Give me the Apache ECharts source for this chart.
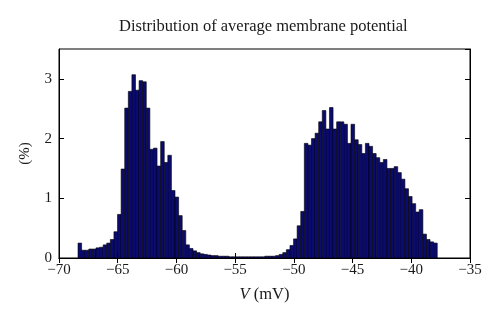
<!DOCTYPE html>
<html><head><meta charset="utf-8">
<script src="https://cdn.jsdelivr.net/npm/echarts@6/dist/echarts.min.js"></script>
<style>html,body{margin:0;padding:0;background:#fff}#c{width:500px;height:323px}</style>
</head><body><div id="c"></div>
<script>
const titleText = 'Distribution of average membrane potential';
const binStart = -68.38;   // left edge of first bin (mV)
const binWidth = 0.3059;   // bin width (mV)
const percents = [
 0.25,0.13,0.13,0.15,0.15,0.17,0.18,0.22,0.25,0.31,
 0.44,0.73,1.49,2.51,2.79,3.07,2.81,2.97,2.95,2.51,
 1.82,1.84,1.54,1.95,1.60,1.72,1.13,1.02,0.71,0.46,
 0.22,0.16,0.12,0.09,0.07,0.06,0.05,0.04,0.04,0.03,
 0.03,0.03,0.02,0.02,0.02,0.02,0.02,0.02,0.02,0.02,
 0.02,0.02,0.03,0.03,0.03,0.04,0.06,0.09,0.14,0.21,
 0.32,0.54,0.78,1.92,1.89,2.00,2.09,2.28,2.47,2.16,
 2.52,2.16,2.28,2.28,2.24,1.92,2.24,1.98,1.90,1.75,
 1.92,1.87,1.75,1.68,1.60,1.65,1.50,1.50,1.53,1.43,
 1.32,1.16,1.03,0.91,0.77,0.81,0.40,0.31,0.27,0.25
];
const xTicks = [-70,-65,-60,-55,-50,-45,-40,-35];
const yTicks = [0,1,2,3];

const data = percents.map((v,i)=>[binStart+i*binWidth, binStart+(i+1)*binWidth, v]);
const font = '"Liberation Serif","DejaVu Serif",serif';
const fmt = v => String(v).replace('-', '\u2212');

const chart = echarts.init(document.getElementById('c'), null, {renderer:'canvas'});
const axisLbl = {fontFamily: font, fontSize: 15, color: '#1a1a1a'};
chart.setOption({
  animation: false,
  title: {text: titleText, left: 114, top: 13,
    textStyle: {fontFamily: font, fontSize: 16.5, fontWeight: 'normal', color: '#1a1a1a'}},
  grid: {left: 59, right: 30, top: 49, bottom: 65, show: true, borderColor: '#000', borderWidth: 1, backgroundColor: 'transparent'},
  xAxis: [{
    type: 'value', min: xTicks[0], max: xTicks[xTicks.length-1], interval: 5,
    axisLine: {show: true, lineStyle: {color: '#000', width: 1}},
    axisTick: {show: true, inside: true, length: 5, lineStyle: {color: '#000'}},
    axisLabel: Object.assign({margin: 5, formatter: fmt}, axisLbl),
    splitLine: {show: false},
    name: '{i|V} (mV)', nameLocation: 'middle', nameGap: 28,
    nameTextStyle: {fontFamily: font, fontSize: 16.5, color: '#1a1a1a',
      rich: {i: {fontFamily: font, fontSize: 16.5, fontStyle: 'italic', color: '#1a1a1a'}}}
  },{
    type: 'value', min: xTicks[0], max: xTicks[xTicks.length-1], interval: 5, position: 'top',
    axisLine: {show: true, lineStyle: {color: '#000'}},
    axisTick: {show: true, inside: true, length: 5, lineStyle: {color: '#000'}},
    axisLabel: {show: false}, splitLine: {show: false}
  }],
  yAxis: [{
    type: 'value', min: yTicks[0], max: 3.5, interval: 1,
    axisLine: {show: true, lineStyle: {color: '#000'}},
    axisTick: {show: true, inside: true, length: 5, lineStyle: {color: '#000'}},
    axisLabel: Object.assign({margin: 7, showMaxLabel: false}, axisLbl),
    splitLine: {show: false},
    name: '(%)', nameLocation: 'middle', nameGap: 26, nameRotate: 90,
    nameTextStyle: {fontFamily: font, fontSize: 15, color: '#1a1a1a'}
  },{
    type: 'value', min: yTicks[0], max: 3.5, interval: 1, position: 'right',
    axisLine: {show: true, lineStyle: {color: '#000'}},
    axisTick: {show: true, inside: true, length: 5, lineStyle: {color: '#000'}},
    axisLabel: {show: false}, splitLine: {show: false}
  }],
  series: [{
    type: 'custom',
    data: data,
    encode: {x: [0,1], y: 2},
    renderItem: function(params, api){
      const p0 = api.coord([api.value(0), api.value(2)]);
      const p1 = api.coord([api.value(1), 0]);
      return {type: 'rect',
        shape: {x: p0[0], y: p0[1], width: p1[0]-p0[0], height: p1[1]-p0[1]},
        style: {fill: '#0b0b6e', stroke: '#000', lineWidth: 0.6}};
    }
  }]
});
</script></body></html>
